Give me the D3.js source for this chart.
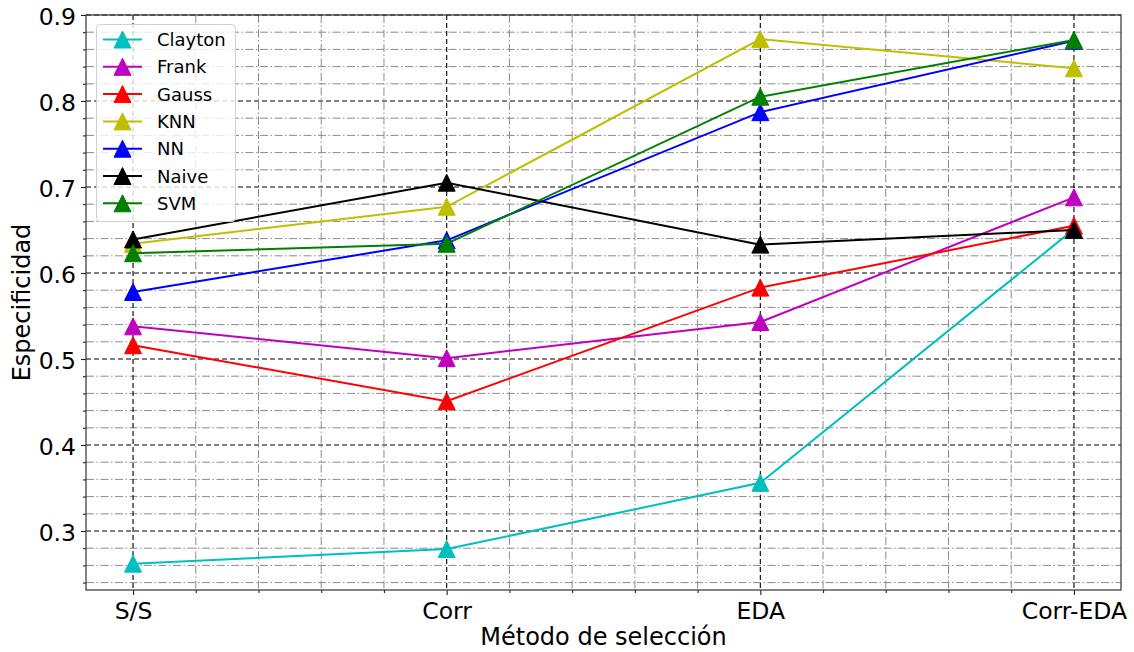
<!DOCTYPE html>
<html>
<head>
<meta charset="utf-8">
<script src="https://cdn.jsdelivr.net/npm/d3@7"></script>
<style>
  html, body { margin: 0; padding: 0; background: #fff; }
  svg { display: block; font-family: "DejaVu Sans", sans-serif; }
</style>
</head>
<body>
<svg id="chart" width="1134" height="652"></svg>
<script>
// Selection methods on the x axis
const categories = ["S/S", "Corr", "EDA", "Corr-EDA"];

// Specificity per classifier / copula
const clayton = [0.262, 0.279, 0.356, 0.651];
const frank   = [0.538, 0.501, 0.543, 0.688];
const gauss   = [0.516, 0.451, 0.583, 0.655];
const knn     = [0.634, 0.677, 0.872, 0.838];
const nn      = [0.578, 0.638, 0.787, 0.870];
const naive   = [0.639, 0.705, 0.633, 0.650];
const svm     = [0.623, 0.634, 0.805, 0.871];

const seriesNames  = ["Clayton", "Frank", "Gauss", "KNN", "NN", "Naive", "SVM"];
const seriesValues = [clayton, frank, gauss, knn, nn, naive, svm];
const seriesColors = ["#00bfbf", "#bf00bf", "#ff0000", "#bfbf00", "#0000ff", "#000000", "#008000"];

const yTicks = [0.3, 0.4, 0.5, 0.6, 0.7, 0.8, 0.9];
const yLabel = "Especificidad";
const xLabel = "Método de selección";

const svg = d3.select("#chart");
const margin = { left: 86, right: 13, top: 15, bottom: 62 };
const W = 1134, H = 652;
const pw = W - margin.left - margin.right;
const ph = H - margin.top - margin.bottom;

const x = d3.scaleLinear().domain([-0.15, categories.length - 1 + 0.15]).range([0, pw]);
const y = d3.scaleLinear().domain([0.2314, 0.9]).range([ph, 0]);

const g = svg.append("g").attr("transform", `translate(${margin.left},${margin.top})`);

// minor grid (dash-dot)
const xMinor = d3.range(0, 3.0001, 0.2).filter(v => Math.abs(v - Math.round(v)) > 1e-6);
const yMinor = d3.range(0.24, 0.9001, 0.02).filter(v => Math.abs(v * 10 - Math.round(v * 10)) > 1e-6);

const grid = g.append("g");
grid.selectAll(".mx").data(xMinor).join("line")
  .attr("x1", d => x(d)).attr("x2", d => x(d)).attr("y1", 0).attr("y2", ph)
  .attr("stroke", "#8a8a8a").attr("stroke-width", 1).attr("stroke-dasharray", "8,2.5,1.5,2.5");
grid.selectAll(".my").data(yMinor).join("line")
  .attr("y1", d => y(d)).attr("y2", d => y(d)).attr("x1", 0).attr("x2", pw)
  .attr("stroke", "#8a8a8a").attr("stroke-width", 1).attr("stroke-dasharray", "8,2.5,1.5,2.5");

// major grid (dashed)
grid.selectAll(".Mx").data(d3.range(categories.length)).join("line")
  .attr("x1", d => x(d)).attr("x2", d => x(d)).attr("y1", 0).attr("y2", ph)
  .attr("stroke", "#000").attr("stroke-width", 1.1).attr("stroke-dasharray", "5,3");
grid.selectAll(".My").data(yTicks).join("line")
  .attr("y1", d => y(d)).attr("y2", d => y(d)).attr("x1", 0).attr("x2", pw)
  .attr("stroke", "#000").attr("stroke-width", 1.1).attr("stroke-dasharray", "5,3");

// axes
const xAxis = d3.axisBottom(x).tickValues(d3.range(categories.length))
  .tickFormat(i => categories[i]).tickSize(5).tickPadding(7);
const xAxisMinor = d3.axisBottom(x).tickValues(xMinor).tickFormat("").tickSize(3);
const yAxis = d3.axisLeft(y).tickValues(yTicks).tickFormat(d3.format(".1f")).tickSize(5).tickPadding(5);
const yAxisMinor = d3.axisLeft(y).tickValues(yMinor).tickFormat("").tickSize(3);

function styleAxis(sel) {
  sel.select(".domain").remove();
  sel.selectAll("line").attr("stroke", "#222").attr("stroke-width", 1.1);
  sel.selectAll("text").attr("fill", "#000").style("font-size", "23.5px").style("font-family", "DejaVu Sans, sans-serif");
}
g.append("g").attr("transform", `translate(0,${ph})`).call(xAxisMinor).call(styleAxis);
g.append("g").attr("transform", `translate(0,${ph})`).call(xAxis).call(styleAxis);
g.append("g").call(yAxisMinor).call(styleAxis);
g.append("g").call(yAxis).call(styleAxis).selectAll(".tick text").attr("dy", "0.41em");

// spines
g.append("rect").attr("x", 0).attr("y", 0).attr("width", pw).attr("height", ph)
  .attr("fill", "none").attr("stroke", "#333").attr("stroke-width", 1.2);

// series
const line = d3.line().x((d, i) => x(i)).y(d => y(d));
function triPath(s) {
  // triangle whose bounding box is centred on the data point
  const h = s / 2;
  return `M0,${-h}L${h},${h}L${-h},${h}Z`;
}
const markerSize = 17;

seriesValues.forEach((vals, k) => {
  const sg = g.append("g");
  sg.append("path").datum(vals).attr("d", line)
    .attr("fill", "none").attr("stroke", seriesColors[k]).attr("stroke-width", 2);
  sg.selectAll("path.m").data(vals).join("path").attr("class", "m")
    .attr("d", triPath(markerSize))
    .attr("transform", (d, i) => `translate(${x(i)},${y(d)})`)
    .attr("fill", seriesColors[k]).attr("stroke", seriesColors[k]).attr("stroke-width", 1);
});

// axis labels
svg.append("text").attr("x", margin.left + pw / 2).attr("y", 645)
  .attr("text-anchor", "middle").style("font-size", "24px").text(xLabel);
svg.append("text").attr("transform", `translate(30,${margin.top + ph / 2}) rotate(-90)`)
  .attr("text-anchor", "middle").style("font-size", "24px").text(yLabel);

// legend
const lg = svg.append("g").attr("transform", "translate(96,24)");
lg.append("rect").attr("x", 0.5).attr("y", 0.5).attr("width", 139).attr("height", 197)
  .attr("rx", 4).attr("fill", "#fff").attr("fill-opacity", 0.8)
  .attr("stroke", "#d0d0d0").attr("stroke-width", 1);
seriesNames.forEach((name, k) => {
  const cy = 15.5 + k * 27.3;
  lg.append("line").attr("x1", 7).attr("x2", 46).attr("y1", cy).attr("y2", cy)
    .attr("stroke", seriesColors[k]).attr("stroke-width", 2);
  lg.append("path").attr("d", triPath(markerSize)).attr("transform", `translate(26.5,${cy})`)
    .attr("fill", seriesColors[k]).attr("stroke", seriesColors[k]).attr("stroke-width", 1);
  lg.append("text").attr("x", 61).attr("y", cy + 6.5).style("font-size", "18px").text(name);
});
</script>
</body>
</html>
